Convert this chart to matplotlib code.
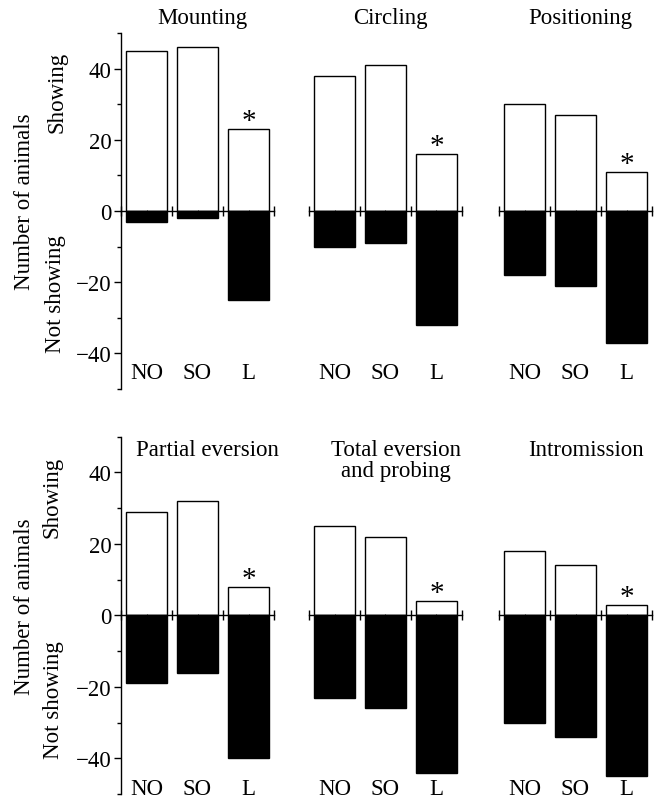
import matplotlib
matplotlib.use("Agg")
import matplotlib.pyplot as plt
from matplotlib.ticker import FixedLocator

plt.rcParams['font.family'] = ['Liberation Serif', 'DejaVu Serif']
plt.rcParams['mathtext.fontset'] = 'stix'

groups = ["NO", "SO", "L"]
behaviours = ["Mounting", "Circling", "Positioning",
              "Partial eversion", "Total eversion\nand probing", "Intromission"]
showing = [
    [45, 46, 23],
    [38, 41, 16],
    [30, 27, 11],
    [29, 32, 8],
    [25, 22, 4],
    [18, 14, 3],
]
not_showing = [
    [-3, -2, -25],
    [-10, -9, -32],
    [-18, -21, -37],
    [-19, -16, -40],
    [-23, -26, -44],
    [-30, -34, -45],
]
significant = [2, 2, 2, 2, 2, 2]  # index of group marked with *
yticks_major = [-40, -20, 0, 20, 40]
yticks_minor = [-50, -30, -10, 10, 30, 50]

W, H = 660, 803
fig = plt.figure(figsize=(W / 100, H / 100), dpi=100)

FS = 16.5
lefts = [121, 309, 499]
pw = 153
rows = [(34, 390), (437.7, 795)]
label_y = [-45.4, -48.5]
title_y = [54.3, 46.5]
title_x = [2.1, 2.2]

for i, name in enumerate(behaviours):
    r, c = divmod(i, 3)
    top, bot = rows[r]
    ax = fig.add_axes([lefts[c] / W, 1 - bot / H, pw / W, (bot - top) / H])
    x = [1, 2, 3]
    ax.bar(x, showing[i], width=0.8, color='white', edgecolor='black', linewidth=1.0, zorder=1)
    ax.bar(x, not_showing[i], width=0.8, color='black', edgecolor='black', linewidth=1.0, zorder=1)
    ax.set_xlim(0.5, 3.5)
    ax.set_ylim(-50, 50)
    for s in ['top', 'right']:
        ax.spines[s].set_visible(False)
    ax.spines['bottom'].set_position(('data', 0))
    ax.spines['bottom'].set_linewidth(1.0)
    ax.spines['bottom'].set_zorder(3)
    ax.xaxis.set_major_locator(FixedLocator([0.5, 1.5, 2.5, 3.5]))
    ax.xaxis.set_minor_locator(FixedLocator([1, 2, 3]))
    ax.tick_params(axis='x', which='major', direction='inout', length=7, width=1.0, labelbottom=False)
    ax.tick_params(axis='x', which='minor', direction='inout', length=2, width=0.6, labelbottom=False)
    if c == 0:
        ax.spines['left'].set_linewidth(1.0)
        ax.yaxis.set_major_locator(FixedLocator(yticks_major))
        ax.yaxis.set_minor_locator(FixedLocator(yticks_minor))
        ax.tick_params(axis='y', which='major', direction='out', length=5, width=1.0,
                       labelsize=FS, pad=2)
        ax.tick_params(axis='y', which='minor', direction='out', length=3, width=1.0)
    else:
        ax.spines['left'].set_visible(False)
        ax.set_yticks([])
    ax.patch.set_visible(False)
    for j, g in enumerate(groups):
        ax.text(x[j], label_y[r], g, ha='center', va='center', fontsize=FS, clip_on=False)
    k = significant[i]
    ax.text(x[k], showing[i][k] + 0.2, '*', ha='center', va='baseline', fontsize=21, clip_on=False)
    ax.text(title_x[r], title_y[r] - (3.0 if '\n' in name else 0), name, ha='center', va='center',
            fontsize=FS, linespacing=0.95, clip_on=False)

# y-axis labels
ylab = [(25, 202, 57, 92, 55, 294), (25, 607, 52, 497, 53, 700)]
for (nx, ny, sx, sy, tx, ty) in ylab:
    fig.text(nx / W, 1 - ny / H, 'Number of animals', rotation=90, ha='center', va='center', fontsize=FS)
    fig.text(sx / W, 1 - sy / H, 'Showing', rotation=90, ha='center', va='center', fontsize=FS)
    fig.text(tx / W, 1 - ty / H, 'Not showing', rotation=90, ha='center', va='center', fontsize=FS)

fig.savefig('out.png', dpi=100)
